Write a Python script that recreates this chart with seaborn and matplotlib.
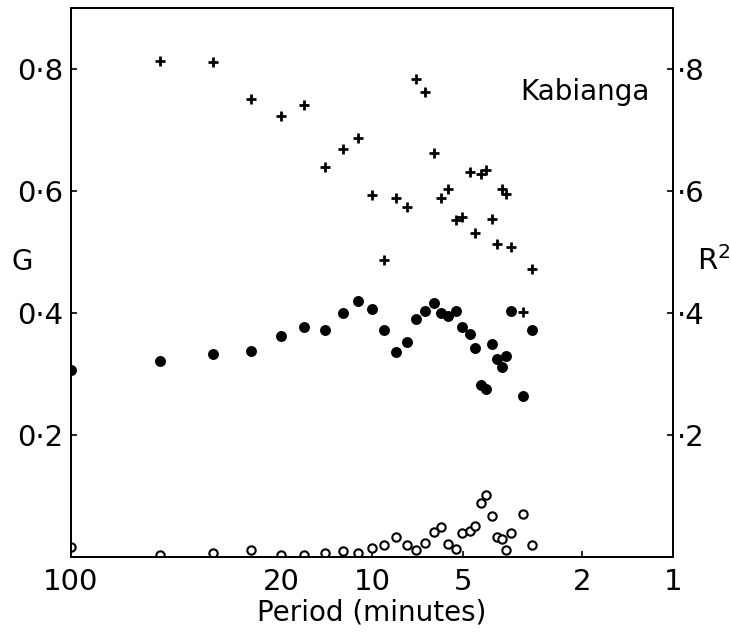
import numpy as np
import pandas as pd
import matplotlib
matplotlib.use("Agg")
import matplotlib.pyplot as plt
import seaborn as sns
from matplotlib.ticker import FixedLocator, FixedFormatter, NullLocator

# ---- data ----
period = [100, 50.5, 33.8, 25.2, 20.0, 16.8, 14.35, 12.45, 11.15, 10.0, 9.10,
          8.30, 7.66, 7.15, 6.68, 6.23, 5.90, 5.59, 5.25, 5.01, 4.73, 4.54,
          4.33, 4.18, 3.99, 3.85, 3.71, 3.59, 3.46, 3.16, 2.93]
g_values = [0.307, 0.322, 0.333, 0.338, 0.362, 0.377, 0.372, 0.400, 0.420, 0.406,
            0.372, 0.337, 0.353, 0.391, 0.404, 0.416, 0.400, 0.396, 0.404, 0.377,
            0.365, 0.342, 0.282, 0.276, 0.350, 0.324, 0.311, 0.329, 0.404, 0.264,
            0.373]
r2_values = [np.nan, 0.814, 0.812, 0.752, 0.723, 0.741, 0.639, 0.670, 0.688, 0.594,
             0.487, 0.589, 0.574, 0.784, 0.763, 0.662, 0.589, 0.603, 0.552, 0.557,
             0.631, 0.532, 0.628, 0.635, 0.554, 0.514, 0.604, 0.595, 0.508, 0.402,
             0.473]
open_values = [0.017, 0.004, 0.007, 0.012, 0.004, 0.004, 0.006, 0.010, 0.007, 0.015,
               0.019, 0.032, 0.020, 0.012, 0.023, 0.041, 0.050, 0.021, 0.013, 0.039,
               0.043, 0.051, 0.088, 0.101, 0.068, 0.033, 0.029, 0.012, 0.040, 0.070,
               0.020]

x_ticks = [100, 20, 10, 5, 2, 1]
x_ticklabels = ["100", "20", "10", "5", "2", "1"]
y_ticks = [0.2, 0.4, 0.6, 0.8]
y_left_labels = ["0·2", "0·4", "0·6", "0·8"]
y_right_labels = ["·2", "·4", "·6", "·8"]

df = pd.DataFrame({"period": period, "G": g_values, "R2": r2_values, "open": open_values})

sns.set_theme(style="ticks")
plt.rcParams["font.family"] = ["DejaVu Sans"]

fig = plt.figure(figsize=(7.31, 6.36), dpi=100)
ax = fig.add_axes([0.0967, 0.1242, 0.9207 - 0.0967, 0.987 - 0.1242])

sns.scatterplot(data=df, x="period", y="open", ax=ax, marker="o", s=36,
                facecolor="white", edgecolor="black", linewidth=1.5, zorder=3)
sns.scatterplot(data=df, x="period", y="G", ax=ax, marker="o", s=62,
                color="black", edgecolor="black", linewidth=0, zorder=3)
sns.scatterplot(data=df.dropna(subset=["R2"]), x="period", y="R2", ax=ax, marker="+",
                s=60, color="black", linewidth=2.0, zorder=3)

ax.set_xscale("log")
ax.set_xlim(100, 1)
ax.set_ylim(0, 0.9)
ax.xaxis.set_major_locator(FixedLocator(x_ticks))
ax.xaxis.set_major_formatter(FixedFormatter(x_ticklabels))
ax.xaxis.set_minor_locator(NullLocator())
ax.yaxis.set_major_locator(FixedLocator(y_ticks))
ax.yaxis.set_major_formatter(FixedFormatter(y_left_labels))
ax.tick_params(axis="both", direction="in", length=4, width=1.2, labelsize=21,
               colors="black")
ax.tick_params(axis="x", pad=8)
ax.tick_params(axis="y", pad=5)

ax2 = ax.twinx()
ax2.set_ylim(0, 0.9)
ax2.yaxis.set_major_locator(FixedLocator(y_ticks))
ax2.yaxis.set_major_formatter(FixedFormatter(y_right_labels))
ax2.tick_params(axis="y", direction="in", length=4, width=1.2, labelsize=21, pad=3,
                colors="black")

for a in (ax, ax2):
    for sp in a.spines.values():
        sp.set_visible(True)
        sp.set_linewidth(1.4)
        sp.set_color("black")

ax.set_xlabel("Period (minutes)", fontsize=20, labelpad=2, color="black")
ax.set_ylabel("G", fontsize=20, rotation=0, ha="center", va="center", color="black")
ax.yaxis.set_label_coords(-0.081, 0.537)
ax2.set_ylabel("R$^2$", fontsize=21, rotation=0, ha="center", va="center",
               color="black")
ax2.yaxis.set_label_coords(1.068, 0.54)

ax.text(0.746, 0.847, "Kabianga", transform=ax.transAxes, fontsize=20,
        ha="left", va="center", color="black")

fig.savefig("out.png", dpi=100, facecolor="white")
